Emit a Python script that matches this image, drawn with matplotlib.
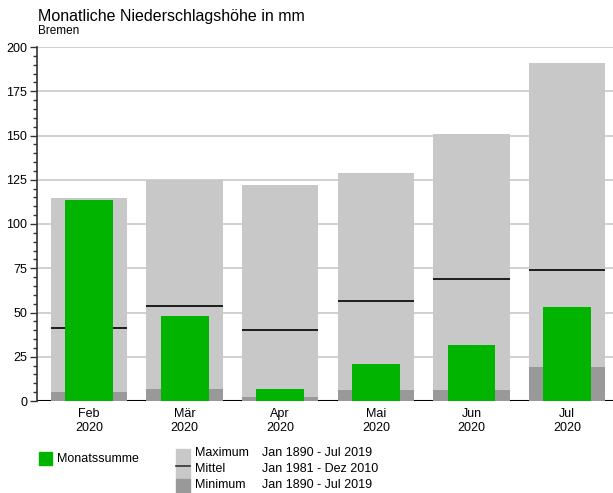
import matplotlib

matplotlib.use('agg')
import matplotlib.pyplot as plt
from matplotlib.patches import Rectangle

plt.rcParams['font.family'] = ['Liberation Sans', 'DejaVu Sans']

months = ['Feb\n2020', 'Mär\n2020', 'Apr\n2020', 'Mai\n2020', 'Jun\n2020', 'Jul\n2020']
monatssumme = [113.5, 48, 7, 21, 31.5, 53]
maximum = [114.5, 125, 122, 129, 151, 191]
mittel = [41, 53.5, 40, 56.5, 69, 74]
minimum = [5, 6.5, 2.5, 6, 6, 19]

W, H = 613, 493
fig = plt.figure(figsize=(W / 100, H / 100), dpi=100)


def fx(px):
    return px / W


def fy(py):
    return 1 - py / H


ax = fig.add_axes([fx(37), fy(401), fx(613) - fx(37), fy(47) - fy(401)])

x = list(range(len(months)))
ax.bar(x, maximum, width=0.8, color='#c8c8c8', zorder=2)
ax.bar(x, minimum, width=0.8, color='#999999', zorder=3)
ax.hlines(mittel, [i - 0.4 for i in x], [i + 0.4 for i in x], color='black', lw=1.2, zorder=3)
ax.bar(x, monatssumme, width=0.5, color='#00b400', zorder=4)
ax.axhline(0, color='black', lw=1.5, zorder=1)

ax.set_xlim(-0.544, 5.48)
ax.set_ylim(0, 200)
ax.set_yticks(range(0, 201, 25))
ax.set_yticks(range(0, 201, 5), minor=True)
ax.yaxis.grid(True, color='#c8c8c8', lw=1.2, zorder=0)
ax.set_axisbelow(True)
ax.set_xticks(x)
ax.set_xticklabels(months, fontsize=9, linespacing=1.25)
ax.tick_params(axis='x', length=0, pad=5)
ax.tick_params(axis='y', which='major', length=5, width=1, color='#333333', labelsize=9, pad=2)
ax.tick_params(axis='y', which='minor', length=3, width=1, color='#333333')
for s in ['top', 'right', 'bottom']:
    ax.spines[s].set_visible(False)
ax.spines['left'].set_color('#333333')
ax.spines['left'].set_linewidth(1.2)

fig.text(fx(38), fy(17), 'Monatliche Niederschlagshöhe in mm', fontsize=11.5, va='center')
fig.text(fx(38), fy(31), 'Bremen', fontsize=8.5, va='center')

# legend
fig.add_artist(Rectangle((fx(39), fy(465)), fx(13), fy(452) - fy(465), color='#00b400',
                         transform=fig.transFigure))
fig.text(fx(57), fy(459), 'Monatssumme', fontsize=9, va='center')
fig.add_artist(Rectangle((fx(176), fy(479)), fx(14), fy(449) - fy(479), color='#c8c8c8',
                         transform=fig.transFigure))
fig.add_artist(Rectangle((fx(176), fy(493)), fx(14), fy(479) - fy(493), color='#999999',
                         transform=fig.transFigure))
fig.add_artist(plt.Line2D([fx(176), fx(190)], [fy(466), fy(466)], color='#333333', lw=1.2,
                          transform=fig.transFigure))
labels = ['Maximum', 'Mittel', 'Minimum']
ranges = ['Jan 1890 - Jul 2019', 'Jan 1981 - Dez 2010', 'Jan 1890 - Jul 2019']
for i, (lab, rng) in enumerate(zip(labels, ranges)):
    yy = 453 + i * 16
    fig.text(fx(195), fy(yy), lab, fontsize=9, va='center')
    fig.text(fx(262), fy(yy), rng, fontsize=9, va='center')

plt.savefig('out.png', dpi=100)
